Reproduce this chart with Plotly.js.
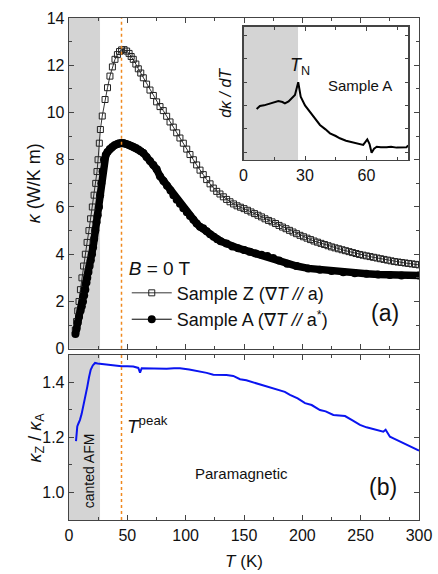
<!DOCTYPE html>
<html><head><meta charset="utf-8">
<script src="https://cdn.plot.ly/plotly-3.0.1.min.js"></script>
<style>html,body{margin:0;padding:0;background:#fff}#plot{width:438px;height:574px}</style>
</head><body><div id="plot"></div>
<script>
// Sample Z (open squares), kappa in W/K m vs T in K
const zT = [5.4,6.5,7.5,8.6,9.8,11.1,12.5,14.0,15.5,17.1,18.5,20.0,21.5,22.9,24.0,24.9,26.0,26.9,28.5,30.9,33.0,35.1,37.2,39.4,41.5,43.3,45.1,47.2,49.4,51.5,53.3,55.1,57.3,59.4,61.5,63.7,66.5,69.4,72.3,75.1,78,80.8,83.7,86.6,89.4,92.3,95.1,98,100.9,103.7,106.6,109.4,112.3,115.1,118,120.9,123.7,126.6,129.4,132.3,135.1,138,141,144,147,150,153,156,159,162,165,168,171,174,177,180,183,186,189,192,195,198,201,204,207,210,213,216,219,222,225,228,231,234,237,240,243,246,249,252,255,258,261,264,267,270,273,276,279,282,285,288,291,294,297,300];
const zK = [0.79,1.15,1.6,2.0,2.5,3.0,3.5,4.0,4.5,5.0,5.5,6.0,6.5,7.0,7.5,8.0,8.7,9.28,9.85,10.55,11.05,11.54,11.93,12.25,12.45,12.58,12.65,12.66,12.6,12.5,12.37,12.25,12.05,11.85,11.67,11.47,11.2,10.95,10.72,10.45,10.25,10.08,9.84,9.6,9.38,9.14,8.92,8.7,8.45,8.22,8.0,7.78,7.56,7.37,7.16,6.98,6.8,6.66,6.55,6.43,6.32,6.22,6.13,6.05,5.99,5.93,5.86,5.79,5.72,5.65,5.58,5.5,5.43,5.37,5.3,5.22,5.15,5.08,5.01,4.94,4.87,4.8,4.74,4.68,4.62,4.56,4.51,4.46,4.41,4.36,4.31,4.27,4.23,4.19,4.15,4.11,4.07,4.03,3.99,3.96,3.93,3.9,3.87,3.84,3.81,3.78,3.75,3.72,3.69,3.67,3.65,3.63,3.61,3.59,3.57,3.55];
// Sample A (filled circles)
const aT = [5.5,6.5,7.5,8.6,10,11,12,13,14,15,15.7,16.7,17.7,18.7,19.7,20.6,21.6,22.6,23.6,24.6,25.7,26.7,27.7,28.8,30,31.5,33,35,37,39,41,43,45,47,49,51,53,55.1,57.3,59.4,61.5,63.7,66.5,69.4,72.3,75.1,78,81,84,87,89.5,92.3,95.1,98,101,103.7,106.6,109.4,112.3,115,118,121,124,127,130,135,140,145,150,155,160,165,170,175,180,187,195,205,215,225,235,245,255,265,275,285,300];
const aK = [0.62,0.85,1.1,1.35,1.62,1.8,2.0,2.25,2.5,2.8,3.0,3.25,3.5,3.75,4.0,4.3,4.65,5.0,5.35,5.65,6.0,6.5,7.0,7.5,8.0,8.2,8.33,8.45,8.54,8.61,8.66,8.7,8.71,8.7,8.67,8.63,8.59,8.55,8.5,8.43,8.36,8.29,8.12,7.95,7.78,7.6,7.3,7.1,6.9,6.7,6.5,6.31,6.14,5.95,5.78,5.62,5.46,5.3,5.16,5.1,4.97,4.85,4.74,4.63,4.55,4.45,4.33,4.25,4.18,4.1,4.03,3.98,3.93,3.84,3.73,3.6,3.5,3.4,3.34,3.29,3.24,3.2,3.17,3.14,3.12,3.1,3.1];
// Ratio kappa_Z / kappa_A
const rT = [6,7.1,8,9.4,10.8,12.3,14,15.7,17.2,18.6,20.4,22.3,24.5,26.6,30,35,40.9,45,50,55.1,59.4,60.9,62.3,70,77,83.7,90,95.1,103,112.3,118,123.7,129.4,135,140.8,146.6,152,155.1,158,164,169.4,175,179.4,185,189.4,196,202.3,208,215.1,220,226.6,231,236.6,243,249.4,255,260.9,265,269.4,271.4,275.1,279,283.7,288,292.3,296,300];
const rR = [1.187,1.24,1.25,1.264,1.285,1.312,1.35,1.385,1.42,1.446,1.462,1.471,1.469,1.468,1.466,1.463,1.461,1.459,1.459,1.458,1.453,1.436,1.452,1.451,1.449,1.45,1.452,1.452,1.447,1.44,1.435,1.428,1.428,1.427,1.424,1.412,1.408,1.404,1.398,1.392,1.385,1.378,1.373,1.366,1.355,1.342,1.325,1.318,1.3,1.295,1.282,1.28,1.278,1.262,1.246,1.237,1.23,1.226,1.221,1.228,1.203,1.195,1.185,1.177,1.166,1.16,1.152];
// Inset: d kappa / dT (arb. units), Sample A
const iT = [6.4,8,10,12.9,15,17,19,20.2,22,23.5,25.1,26.7,27.9,30,31.5,33.3,35.3,37.3,40,42.2,45,47,50,53.6,56,58.4,60.4,61.5,62.5,63.7,65,67,69.8,72,74.7,77,79.5,80.3];
const iD = [0.383,0.405,0.41,0.425,0.43,0.443,0.435,0.425,0.44,0.463,0.488,0.583,0.475,0.41,0.38,0.338,0.3,0.263,0.23,0.2,0.18,0.163,0.145,0.13,0.12,0.113,0.155,0.12,0.055,0.085,0.1,0.095,0.095,0.1,0.093,0.095,0.095,0.11];
const TN = 26.6, Tpeak = 45;

const FONT = 'Liberation Sans, Arial, sans-serif';
const AX = '#444';
const traces = [
  {x:aT, y:aK, xaxis:'x', yaxis:'y', mode:'lines', showlegend:false, hoverinfo:'skip',
   line:{color:'#000', width:7.5}},
  {x:zT, y:zK, xaxis:'x', yaxis:'y', mode:'lines+markers', name:'Sample Z (∇<i>T //</i> a)',
   line:{color:'#000', width:0.8},
   marker:{symbol:'square-open', size:6, color:'#222', line:{width:1}}},
  {x:aT, y:aK, xaxis:'x', yaxis:'y', mode:'lines+markers', name:'Sample A (∇<i>T //</i> a<sup>*</sup>)',
   line:{color:'#000', width:1},
   marker:{symbol:'circle', size:8, color:'#000'}},
  {x:rT, y:rR, xaxis:'x2', yaxis:'y2', mode:'lines', showlegend:false,
   line:{color:'#0a14f0', width:2}},
  {x:iT, y:iD, xaxis:'x3', yaxis:'y3', mode:'lines', showlegend:false,
   line:{color:'#000', width:2}}
];
const common = {showline:true, linecolor:AX, linewidth:1.3, mirror:'allticks', ticks:'inside',
  ticklen:5, tickcolor:AX, tickwidth:1, showgrid:false, zeroline:false,
  tickfont:{family:FONT, size:16, color:'#111'}};
const layout = {
  width:438, height:574, margin:{l:69, r:19, t:18, b:54},
  paper_bgcolor:'#fff', plot_bgcolor:'rgba(0,0,0,0)',
  font:{family:FONT, color:'#111'},
  showlegend:true,
  legend:{x:0.165, y:0.538, xanchor:'left', yanchor:'top', bgcolor:'rgba(0,0,0,0)', itemwidth:40,
    font:{family:FONT, size:18, color:'#111'}, tracegroupgap:0,
    title:{text:'<i>B</i> = 0 T', font:{family:FONT, size:19}}},
  xaxis: Object.assign({}, common, {domain:[0,1], anchor:'y', range:[0,300], dtick:50,
    showticklabels:false, minor:{dtick:25, ticklen:3, ticks:'inside', tickcolor:AX}}),
  yaxis: Object.assign({}, common, {domain:[0.3412,1], anchor:'x', range:[0,14], dtick:2,
    minor:{dtick:1, ticklen:3, ticks:'inside', tickcolor:AX}}),
  xaxis2: Object.assign({}, common, {domain:[0,1], anchor:'y2', range:[0,300], dtick:50,
    minor:{dtick:25, ticklen:3, ticks:'inside', tickcolor:AX},
    title:{text:'<i>T</i> (K)', font:{family:FONT, size:17}, standoff:12}}),
  yaxis2: Object.assign({}, common, {domain:[0,0.3287], anchor:'x2', range:[0.9,1.5], dtick:0.2,
    tick0:1.0, tickformat:'.1f', minor:{dtick:0.1, ticklen:3, ticks:'inside', tickcolor:AX}}),
  xaxis3: Object.assign({}, common, {domain:[0.4986,0.9694], anchor:'y3', range:[0,80.4], dtick:30,
    ticklen:4, minor:{dtick:15, ticklen:3, ticks:'inside', tickcolor:AX}}),
  yaxis3: Object.assign({}, common, {domain:[0.7171,0.9827], anchor:'x3', range:[0,1], dtick:0.175, tick0:0.06,
    ticklen:3, showticklabels:false,
    title:{text:'<i>dκ / dT</i>', font:{family:FONT, size:16}, standoff:6}}),
  shapes:[
    {type:'rect', xref:'x', yref:'y domain', x0:0, x1:TN, y0:0, y1:1, fillcolor:'#d4d4d4', line:{width:0}, layer:'below'},
    {type:'rect', xref:'x2', yref:'y2 domain', x0:0, x1:TN, y0:0, y1:1, fillcolor:'#d4d4d4', line:{width:0}, layer:'below'},
    {type:'rect', xref:'x3', yref:'y3 domain', x0:0, x1:TN, y0:0, y1:1, fillcolor:'#d4d4d4', line:{width:0}, layer:'below'},
    {type:'line', xref:'x', yref:'y domain', x0:Tpeak, x1:Tpeak, y0:0, y1:1, line:{color:'#f0881e', width:1.5, dash:'dot'}},
    {type:'line', xref:'x2', yref:'y2 domain', x0:Tpeak, x1:Tpeak, y0:0, y1:1, line:{color:'#f0881e', width:1.5, dash:'dot'}}
  ],
  annotations:[
    {xref:'paper', yref:'paper', x:-0.1, y:0.6706, xanchor:'center', yanchor:'middle', textangle:-90,
     text:'<i>κ</i> (W/K m)', showarrow:false, font:{family:FONT, size:18}},
    {xref:'paper', yref:'paper', x:-0.094, y:0.1644, xanchor:'center', yanchor:'middle', textangle:-90,
     text:'<i>κ</i><sub>Z</sub> / <i>κ</i><sub>A</sub>', showarrow:false, font:{family:FONT, size:18}},
    {xref:'x3', yref:'y3', x:TN+1, y:0.6, text:'<i>T</i><sub>N</sub>', showarrow:false, xanchor:'center', yanchor:'bottom',
     font:{family:FONT, size:18}},
    {xref:'x3', yref:'y3', x:57, y:0.56, text:'Sample A', showarrow:false, font:{family:FONT, size:15}},
    {xref:'paper', yref:'paper', x:0.903, y:0.412, xanchor:'center', yanchor:'middle', text:'(a)', showarrow:false, font:{family:FONT, size:23}},
    {xref:'paper', yref:'paper', x:0.897, y:0.066, xanchor:'center', yanchor:'middle', text:'(b)', showarrow:false, font:{family:FONT, size:23}},
    {xref:'x2', yref:'y2', x:17, y:1.08, text:'canted AFM', textangle:-90, showarrow:false, font:{family:FONT, size:14}},
    {xref:'x2', yref:'y2', x:48, y:1.245, text:'<i>T</i><sup>peak</sup>', xanchor:'left', showarrow:false, font:{family:FONT, size:19}},
    {xref:'x2', yref:'y2', x:148, y:1.07, text:'Paramagnetic', showarrow:false, font:{family:FONT, size:15}}
  ]
};
Plotly.newPlot('plot', traces, layout, {displayModeBar:false, staticPlot:true});
</script></body></html>
